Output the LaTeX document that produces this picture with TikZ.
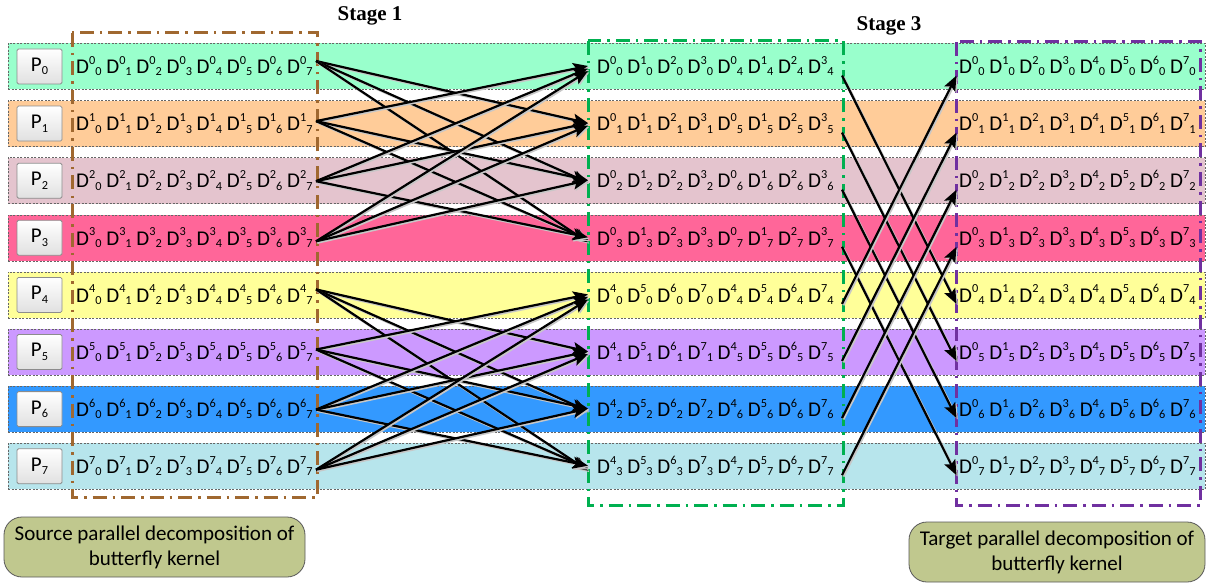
\documentclass[tikz,border=0pt]{standalone}
\usepackage{fontspec}
\setmainfont{Carlito}
\newfontfamily\stagefont{Liberation Serif}
\usetikzlibrary{arrows.meta}

\definecolor{rowA}{RGB}{153,255,204}
\definecolor{rowB}{RGB}{255,204,153}
\definecolor{rowC}{RGB}{228,196,206}
\definecolor{rowD}{RGB}{255,102,153}
\definecolor{rowE}{RGB}{255,255,153}
\definecolor{rowF}{RGB}{204,153,255}
\definecolor{rowG}{RGB}{51,153,255}
\definecolor{rowH}{RGB}{183,229,236}
\definecolor{frameBrown}{RGB}{160,104,48}
\definecolor{frameGreen}{RGB}{0,176,80}
\definecolor{framePurple}{RGB}{112,48,160}
\definecolor{noteFill}{RGB}{192,200,142}

% element D with superscript and subscript set one after the other
\newcommand\scr{\fontsize{12.3}{13}\selectfont}
\newcommand\Dx[2]{D\raisebox{9.2pt}{\scr#1}\raisebox{-2.3pt}{\scr#2}}

\begin{document}
\begin{tikzpicture}[x=1pt,y=-1pt,
  band/.style={draw=black!60, dash pattern=on 2pt off 1.5pt, line width=0.6pt,
    minimum width=1197pt, minimum height=46pt, inner sep=0pt},
  pbox/.style={draw=black!45, line width=0.8pt, rounded corners=1.5pt,
    top color=white, bottom color=black!12, minimum width=45pt, minimum height=35pt,
    inner sep=0pt, font=\fontsize{21}{24}\selectfont},
  dtext/.style={inner sep=0pt, anchor=base west, font=\fontsize{21}{24}\selectfont},
  grp/.style={line width=3pt, dash pattern=on 14pt off 6pt on 2.5pt off 6pt},
  note/.style={draw=black!65, line width=0.8pt, fill=noteFill, rounded corners=18pt,
    minimum height=60pt, align=center, inner sep=0pt,
    font=\fontsize{21}{25}\selectfont},
  stage/.style={font=\stagefont\bfseries\fontsize{21}{24}\selectfont, inner sep=0pt},
  link/.style={line width=2.2pt, black,
    -{Stealth[length=15pt,width=12pt,inset=3pt]},
    preaction={draw=black!22, line width=2.4pt,
      transform canvas={shift={(1.3pt,-1.3pt)}}}}
]
\useasboundingbox (0,0) rectangle (1208,583);

% process bands with their labels
\foreach \i/\c in {0/rowA,1/rowB,2/rowC,3/rowD,4/rowE,5/rowF,6/rowG,7/rowH}{
  \pgfmathsetmacro\y{66.5+57.1*\i}
  \node[band, fill=\c] (band\i) at (606.5,\y) {};
  \node[pbox] (p\i) at (39.5,\y) {P\raisebox{-3.5pt}{\scr\i}};
  \node[dtext] (src\i) at (76,\y+7.2)
    {\Dx{\i}{0} \Dx{\i}{1} \Dx{\i}{2} \Dx{\i}{3} \Dx{\i}{4} \Dx{\i}{5} \Dx{\i}{6} \Dx{\i}{7}};
  \node[dtext] (dst\i) at (959,\y+7.2)
    {\Dx{0}{\i} \Dx{1}{\i} \Dx{2}{\i} \Dx{3}{\i} \Dx{4}{\i} \Dx{5}{\i} \Dx{6}{\i} \Dx{7}{\i}};
  % connector end points
  \pgfmathsetmacro\sy{\y-5.5+3*mod(\i,4)}
  \coordinate (out\i) at (316,\sy);
  \coordinate (mid\i) at (842,\y+9);
  \coordinate (fin\i) at (956.5,\y+9);
}

% intermediate distribution after stage 1
\node[dtext] (mdl0) at (597,66.5+7.2)  {\Dx00 \Dx10 \Dx20 \Dx30 \Dx04 \Dx14 \Dx24 \Dx34};
\node[dtext] (mdl1) at (597,123.6+7.2) {\Dx01 \Dx11 \Dx21 \Dx31 \Dx05 \Dx15 \Dx25 \Dx35};
\node[dtext] (mdl2) at (597,180.7+7.2) {\Dx02 \Dx12 \Dx22 \Dx32 \Dx06 \Dx16 \Dx26 \Dx36};
\node[dtext] (mdl3) at (597,237.8+7.2) {\Dx03 \Dx13 \Dx23 \Dx33 \Dx07 \Dx17 \Dx27 \Dx37};
\node[dtext] (mdl4) at (597,294.9+7.2) {\Dx40 \Dx50 \Dx60 \Dx70 \Dx44 \Dx54 \Dx64 \Dx74};
\node[dtext] (mdl5) at (597,352.0+7.2) {\Dx41 \Dx51 \Dx61 \Dx71 \Dx45 \Dx55 \Dx65 \Dx75};
\node[dtext] (mdl6) at (597,409.1+7.2) {\Dx42 \Dx52 \Dx62 \Dx72 \Dx46 \Dx56 \Dx66 \Dx76};
\node[dtext] (mdl7) at (597,466.2+7.2) {\Dx43 \Dx53 \Dx63 \Dx73 \Dx47 \Dx57 \Dx67 \Dx77};

% decomposition frames
\draw[grp, draw=frameBrown] (72,33) rectangle (317,497);
\draw[grp, draw=frameGreen] (588,41) rectangle (843,505);
\draw[grp, draw=framePurple] (956,42) rectangle (1200,505);

% stage titles
\node[stage] (st1) at (370,16) {Stage 1};
\node[stage] (st3) at (889,26) {Stage 3};

% notes
\node[note, minimum width=301pt] (srcnote) at (154.5,547)
  {Source parallel decomposition of\\butterfly kernel};
\node[note, minimum width=296pt] (dstnote) at (1057,552)
  {Target parallel decomposition of\\butterfly kernel};

% stage 1: exchange inside each group of four processes
\foreach \g in {0,4}{
  \foreach \a in {0,1,2,3}{
    \foreach \b in {0,1,2,3}{
      \ifnum\a=\b\relax\else
        \pgfmathtruncatemacro\s{\g+\a}
        \pgfmathtruncatemacro\t{\g+\b}
        \pgfmathsetmacro\ty{66.5+57.1*\t-3+2.5*abs(\a-\b)}
        \coordinate (in\s-\t) at (588,\ty);
        \draw[link] (out\s) -- (in\s-\t);
      \fi
    }
  }
}

% stage 3: exchange between the two halves
\foreach \i in {0,...,7}{
  \pgfmathtruncatemacro\k{mod(\i+4,8)}
  \draw[link] (mid\i) -- (fin\k);
}
\end{tikzpicture}
\end{document}
